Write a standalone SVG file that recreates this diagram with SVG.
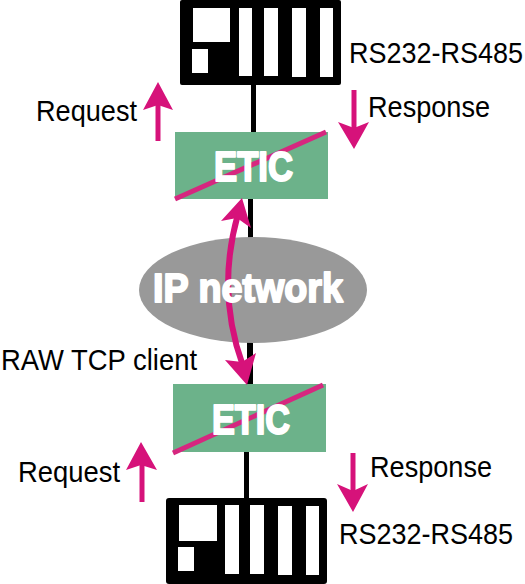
<svg xmlns="http://www.w3.org/2000/svg" width="525" height="584" viewBox="0 0 525 584">
<style>
.lbl{font-family:"Liberation Sans",Arial,sans-serif;font-size:30px;fill:#000}
.w{font-family:"Liberation Sans",Arial,sans-serif;font-weight:700;fill:#fff;stroke:#fff;stroke-width:2px;stroke-linejoin:round}
.m{stroke:#d6127a;fill:none}
.h{fill:#d6127a}
.g{fill:#6cb28a}
.s{fill:#fff}
.d{stroke:#d6277f;stroke-width:5;fill:none}
</style>
<rect width="525" height="584" fill="#fff"/>
<g id="connectors">
<rect x="251" y="84" width="5" height="50" fill="#000"/>
<rect x="248" y="198" width="5" height="45" fill="#000"/>
<rect x="247" y="340" width="6" height="46" fill="#000"/>
<rect x="244" y="450" width="5" height="50" fill="#000"/>
</g>
<g id="plc-top">
<rect x="180" y="0" width="161" height="85" rx="2" fill="#000"/>
<rect class="s" x="193" y="8" width="37" height="34"/>
<rect class="s" x="192" y="49" width="16" height="24"/>
<rect class="s" x="239" y="8" width="13" height="68"/>
<rect class="s" x="264" y="8" width="14" height="68"/>
<rect class="s" x="292" y="8" width="14" height="69"/>
<rect class="s" x="320" y="8" width="13" height="69"/>
</g>
<g id="etic-top">
<rect class="g" x="175" y="132" width="153" height="67"/>
<path class="d" d="M175 199L326 132"/>
<text class="w" x="214" y="181" font-size="42" textLength="79" lengthAdjust="spacingAndGlyphs">ETIC</text>
</g>
<g id="ip-network">
<ellipse cx="253" cy="290" rx="114" ry="53" fill="#999"/>
</g>
<g id="etic-bottom">
<rect class="g" x="173" y="384" width="153" height="68"/>
<path class="d" d="M173 453L323 385"/>
<text class="w" x="212" y="434" font-size="42" textLength="78" lengthAdjust="spacingAndGlyphs">ETIC</text>
</g>
<g id="plc-bottom">
<rect x="166" y="498" width="161" height="86" rx="3" fill="#000"/>
<rect class="s" x="179" y="505" width="38" height="36"/>
<rect class="s" x="178" y="547" width="16" height="24"/>
<rect class="s" x="225" y="505" width="14" height="69"/>
<rect class="s" x="250" y="505" width="14" height="69"/>
<rect class="s" x="278" y="506" width="14" height="69"/>
<rect class="s" x="306" y="506" width="13" height="69"/>
</g>
<g id="link">
<path class="m" d="M238 214Q216 292 243 366" stroke-width="6"/>
<path class="h" d="M242 198L251 228L237 218L221 221Z"/>
<path class="h" d="M247 385L225 360L242 362L256 353Z"/>
</g>
<g id="ip-network-label">
<text class="w" x="153" y="302" font-size="41" textLength="190" lengthAdjust="spacingAndGlyphs">IP network</text>
</g>
<g id="arrows">
<path class="m" d="M158 141V104" stroke-width="5"/>
<path class="h" d="M158 82L143 110L158 105L173 110Z"/>
<path class="m" d="M354 90V128" stroke-width="5"/>
<path class="h" d="M354 149L338 122L354 128L369 122Z"/>
<path class="m" d="M142 502V465" stroke-width="5"/>
<path class="h" d="M141 442L126 470L141 465L157 470Z"/>
<path class="m" d="M353 453V492" stroke-width="5"/>
<path class="h" d="M353 512L337 484L353 491L368 484Z"/>
</g>
<g id="labels">
<text class="lbl" transform="translate(349 63) scale(.9 1)">RS232-RS485</text>
<text class="lbl" x="36" y="121" textLength="101" lengthAdjust="spacingAndGlyphs">Request</text>
<text class="lbl" x="368" y="117" textLength="122" lengthAdjust="spacingAndGlyphs">Response</text>
<text class="lbl" x="1" y="370" textLength="196" lengthAdjust="spacingAndGlyphs">RAW TCP client</text>
<text class="lbl" x="18" y="482" textLength="102" lengthAdjust="spacingAndGlyphs">Request</text>
<text class="lbl" x="370" y="477" textLength="122" lengthAdjust="spacingAndGlyphs">Response</text>
<text class="lbl" transform="translate(339 544) scale(.9 1)">RS232-RS485</text>
</g>
</svg>
